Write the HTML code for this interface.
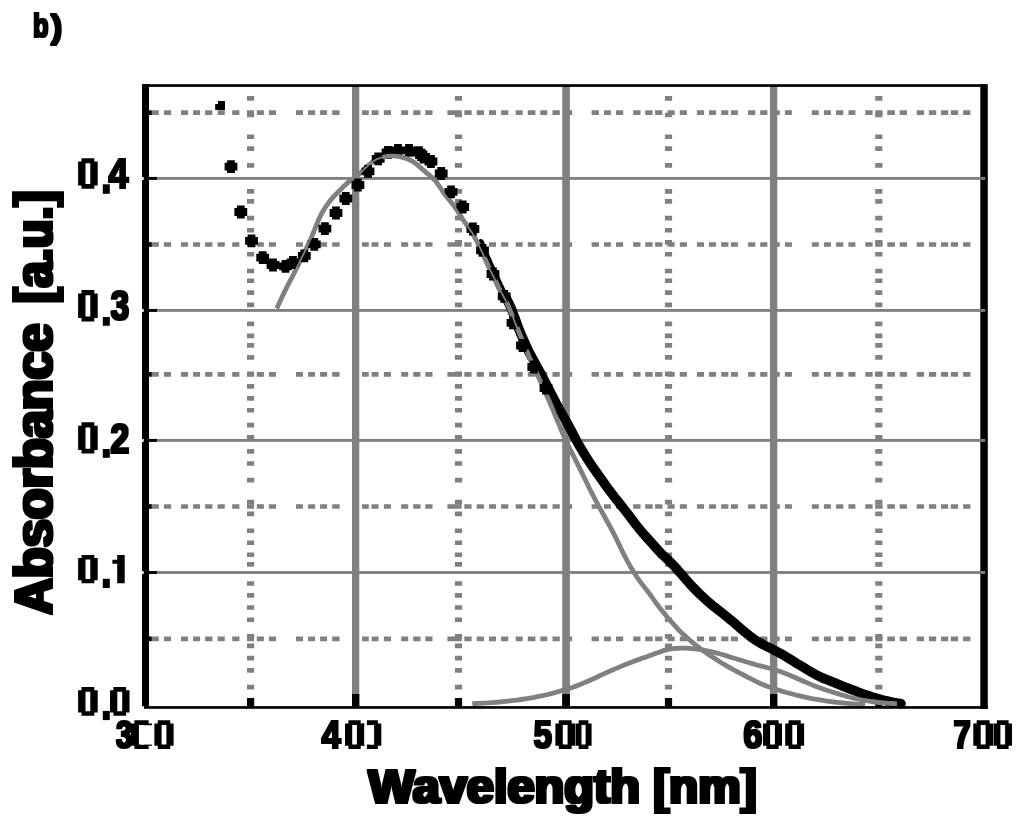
<!DOCTYPE html>
<html><head><meta charset="utf-8"><style>
html,body{margin:0;padding:0;background:#fff;width:1024px;height:821px;overflow:hidden;font-family:"Liberation Sans",sans-serif;}
svg{display:block}
</style></head><body>
<svg width="1024" height="821" viewBox="0 0 1024 821"><rect x="352.0" y="86" width="7.3" height="620" fill="#808080"/>
<rect x="562.2" y="86" width="7.7" height="620" fill="#808080"/>
<rect x="770.0" y="86" width="7.3" height="620" fill="#808080"/>
<rect x="149" y="176.95" width="832" height="2.9" fill="#808080"/>
<rect x="149" y="308.95" width="832" height="2.9" fill="#808080"/>
<rect x="149" y="438.95" width="832" height="2.9" fill="#808080"/>
<rect x="149" y="571.05" width="832" height="2.9" fill="#808080"/>
<path transform="translate(0,110.35)" d="M151.8,0H158.8V4.7H151.8ZM163.9,0H171.1V4.7H163.9ZM181.0,0H188.1V4.7H181.0ZM193.1,0H200.1V4.7H193.1ZM205.1,0H212.4V4.7H205.1ZM217.6,0H224.8V4.7H217.6ZM232.2,0H239.4V4.7H232.2ZM247.0,0H254.0V4.7H247.0ZM256.8,0H263.9V4.7H256.8ZM268.9,0H276.0V4.7H268.9ZM296.0,0H303.0V4.7H296.0ZM308.1,0H315.1V4.7H308.1ZM320.1,0H327.1V4.7H320.1ZM332.2,0H339.6V4.7H332.2ZM362.0,0H368.8V4.7H362.0ZM371.6,0H378.5V4.7H371.6ZM383.9,0H391.0V4.7H383.9ZM401.2,0H408.2V4.7H401.2ZM413.2,0H420.5V4.7H413.2ZM425.3,0H432.5V4.7H425.3ZM447.4,0H454.6V4.7H447.4ZM454.6,0H461.7V4.7H454.6ZM464.3,0H471.6V4.7H464.3ZM476.7,0H483.9V4.7H476.7ZM489.0,0H496.0V4.7H489.0ZM501.1,0H508.3V4.7H501.1ZM515.7,0H522.7V4.7H515.7ZM527.8,0H535.4V4.7H527.8ZM540.3,0H547.3V4.7H540.3ZM552.5,0H559.8V4.7H552.5ZM565.0,0H572.2V4.7H565.0ZM591.6,0H598.9V4.7H591.6ZM604.0,0H610.9V4.7H604.0ZM616.0,0H623.2V4.7H616.0ZM633.2,0H640.5V4.7H633.2ZM645.2,0H652.6V4.7H645.2ZM655.1,0H662.4V4.7H655.1ZM667.5,0H674.7V4.7H667.5ZM679.8,0H686.9V4.7H679.8ZM696.9,0H704.0V4.7H696.9ZM709.0,0H716.1V4.7H709.0ZM721.2,0H728.4V4.7H721.2ZM730.9,0H737.9V4.7H730.9ZM748.1,0H755.3V4.7H748.1ZM760.2,0H767.4V4.7H760.2ZM772.5,0H779.8V4.7H772.5ZM784.9,0H791.9V4.7H784.9ZM811.8,0H818.8V4.7H811.8ZM823.9,0H830.9V4.7H823.9ZM836.1,0H843.3V4.7H836.1ZM848.4,0H855.4V4.7H848.4ZM865.3,0H872.6V4.7H865.3ZM875.2,0H882.6V4.7H875.2ZM887.3,0H894.9V4.7H887.3ZM899.7,0H907.0V4.7H899.7ZM916.7,0H924.1V4.7H916.7ZM928.9,0H936.2V4.7H928.9ZM941.0,0H948.2V4.7H941.0ZM950.8,0H958.1V4.7H950.8ZM963.1,0H970.4V4.7H963.1Z" fill="#808080"/>
<path transform="translate(0,242.15)" d="M151.8,0H158.8V4.7H151.8ZM163.9,0H171.1V4.7H163.9ZM181.0,0H188.1V4.7H181.0ZM193.1,0H200.1V4.7H193.1ZM205.1,0H212.4V4.7H205.1ZM217.6,0H224.8V4.7H217.6ZM232.2,0H239.4V4.7H232.2ZM247.0,0H254.0V4.7H247.0ZM256.8,0H263.9V4.7H256.8ZM268.9,0H276.0V4.7H268.9ZM296.0,0H303.0V4.7H296.0ZM308.1,0H315.1V4.7H308.1ZM320.1,0H327.1V4.7H320.1ZM332.2,0H339.6V4.7H332.2ZM362.0,0H368.8V4.7H362.0ZM371.6,0H378.5V4.7H371.6ZM383.9,0H391.0V4.7H383.9ZM401.2,0H408.2V4.7H401.2ZM413.2,0H420.5V4.7H413.2ZM425.3,0H432.5V4.7H425.3ZM447.4,0H454.6V4.7H447.4ZM454.6,0H461.7V4.7H454.6ZM464.3,0H471.6V4.7H464.3ZM476.7,0H483.9V4.7H476.7ZM489.0,0H496.0V4.7H489.0ZM501.1,0H508.3V4.7H501.1ZM515.7,0H522.7V4.7H515.7ZM527.8,0H535.4V4.7H527.8ZM540.3,0H547.3V4.7H540.3ZM552.5,0H559.8V4.7H552.5ZM565.0,0H572.2V4.7H565.0ZM591.6,0H598.9V4.7H591.6ZM604.0,0H610.9V4.7H604.0ZM616.0,0H623.2V4.7H616.0ZM633.2,0H640.5V4.7H633.2ZM645.2,0H652.6V4.7H645.2ZM655.1,0H662.4V4.7H655.1ZM667.5,0H674.7V4.7H667.5ZM679.8,0H686.9V4.7H679.8ZM696.9,0H704.0V4.7H696.9ZM709.0,0H716.1V4.7H709.0ZM721.2,0H728.4V4.7H721.2ZM730.9,0H737.9V4.7H730.9ZM748.1,0H755.3V4.7H748.1ZM760.2,0H767.4V4.7H760.2ZM772.5,0H779.8V4.7H772.5ZM784.9,0H791.9V4.7H784.9ZM811.8,0H818.8V4.7H811.8ZM823.9,0H830.9V4.7H823.9ZM836.1,0H843.3V4.7H836.1ZM848.4,0H855.4V4.7H848.4ZM865.3,0H872.6V4.7H865.3ZM875.2,0H882.6V4.7H875.2ZM887.3,0H894.9V4.7H887.3ZM899.7,0H907.0V4.7H899.7ZM916.7,0H924.1V4.7H916.7ZM928.9,0H936.2V4.7H928.9ZM941.0,0H948.2V4.7H941.0ZM950.8,0H958.1V4.7H950.8ZM963.1,0H970.4V4.7H963.1Z" fill="#808080"/>
<path transform="translate(0,372.05)" d="M151.8,0H158.8V4.7H151.8ZM163.9,0H171.1V4.7H163.9ZM181.0,0H188.1V4.7H181.0ZM193.1,0H200.1V4.7H193.1ZM205.1,0H212.4V4.7H205.1ZM217.6,0H224.8V4.7H217.6ZM232.2,0H239.4V4.7H232.2ZM247.0,0H254.0V4.7H247.0ZM256.8,0H263.9V4.7H256.8ZM268.9,0H276.0V4.7H268.9ZM296.0,0H303.0V4.7H296.0ZM308.1,0H315.1V4.7H308.1ZM320.1,0H327.1V4.7H320.1ZM332.2,0H339.6V4.7H332.2ZM362.0,0H368.8V4.7H362.0ZM371.6,0H378.5V4.7H371.6ZM383.9,0H391.0V4.7H383.9ZM401.2,0H408.2V4.7H401.2ZM413.2,0H420.5V4.7H413.2ZM425.3,0H432.5V4.7H425.3ZM447.4,0H454.6V4.7H447.4ZM454.6,0H461.7V4.7H454.6ZM464.3,0H471.6V4.7H464.3ZM476.7,0H483.9V4.7H476.7ZM489.0,0H496.0V4.7H489.0ZM501.1,0H508.3V4.7H501.1ZM515.7,0H522.7V4.7H515.7ZM527.8,0H535.4V4.7H527.8ZM540.3,0H547.3V4.7H540.3ZM552.5,0H559.8V4.7H552.5ZM565.0,0H572.2V4.7H565.0ZM591.6,0H598.9V4.7H591.6ZM604.0,0H610.9V4.7H604.0ZM616.0,0H623.2V4.7H616.0ZM633.2,0H640.5V4.7H633.2ZM645.2,0H652.6V4.7H645.2ZM655.1,0H662.4V4.7H655.1ZM667.5,0H674.7V4.7H667.5ZM679.8,0H686.9V4.7H679.8ZM696.9,0H704.0V4.7H696.9ZM709.0,0H716.1V4.7H709.0ZM721.2,0H728.4V4.7H721.2ZM730.9,0H737.9V4.7H730.9ZM748.1,0H755.3V4.7H748.1ZM760.2,0H767.4V4.7H760.2ZM772.5,0H779.8V4.7H772.5ZM784.9,0H791.9V4.7H784.9ZM811.8,0H818.8V4.7H811.8ZM823.9,0H830.9V4.7H823.9ZM836.1,0H843.3V4.7H836.1ZM848.4,0H855.4V4.7H848.4ZM865.3,0H872.6V4.7H865.3ZM875.2,0H882.6V4.7H875.2ZM887.3,0H894.9V4.7H887.3ZM899.7,0H907.0V4.7H899.7ZM916.7,0H924.1V4.7H916.7ZM928.9,0H936.2V4.7H928.9ZM941.0,0H948.2V4.7H941.0ZM950.8,0H958.1V4.7H950.8ZM963.1,0H970.4V4.7H963.1Z" fill="#808080"/>
<path transform="translate(0,504.15)" d="M151.8,0H158.8V4.7H151.8ZM163.9,0H171.1V4.7H163.9ZM181.0,0H188.1V4.7H181.0ZM193.1,0H200.1V4.7H193.1ZM205.1,0H212.4V4.7H205.1ZM217.6,0H224.8V4.7H217.6ZM232.2,0H239.4V4.7H232.2ZM247.0,0H254.0V4.7H247.0ZM256.8,0H263.9V4.7H256.8ZM268.9,0H276.0V4.7H268.9ZM296.0,0H303.0V4.7H296.0ZM308.1,0H315.1V4.7H308.1ZM320.1,0H327.1V4.7H320.1ZM332.2,0H339.6V4.7H332.2ZM362.0,0H368.8V4.7H362.0ZM371.6,0H378.5V4.7H371.6ZM383.9,0H391.0V4.7H383.9ZM401.2,0H408.2V4.7H401.2ZM413.2,0H420.5V4.7H413.2ZM425.3,0H432.5V4.7H425.3ZM447.4,0H454.6V4.7H447.4ZM454.6,0H461.7V4.7H454.6ZM464.3,0H471.6V4.7H464.3ZM476.7,0H483.9V4.7H476.7ZM489.0,0H496.0V4.7H489.0ZM501.1,0H508.3V4.7H501.1ZM515.7,0H522.7V4.7H515.7ZM527.8,0H535.4V4.7H527.8ZM540.3,0H547.3V4.7H540.3ZM552.5,0H559.8V4.7H552.5ZM565.0,0H572.2V4.7H565.0ZM591.6,0H598.9V4.7H591.6ZM604.0,0H610.9V4.7H604.0ZM616.0,0H623.2V4.7H616.0ZM633.2,0H640.5V4.7H633.2ZM645.2,0H652.6V4.7H645.2ZM655.1,0H662.4V4.7H655.1ZM667.5,0H674.7V4.7H667.5ZM679.8,0H686.9V4.7H679.8ZM696.9,0H704.0V4.7H696.9ZM709.0,0H716.1V4.7H709.0ZM721.2,0H728.4V4.7H721.2ZM730.9,0H737.9V4.7H730.9ZM748.1,0H755.3V4.7H748.1ZM760.2,0H767.4V4.7H760.2ZM772.5,0H779.8V4.7H772.5ZM784.9,0H791.9V4.7H784.9ZM811.8,0H818.8V4.7H811.8ZM823.9,0H830.9V4.7H823.9ZM836.1,0H843.3V4.7H836.1ZM848.4,0H855.4V4.7H848.4ZM865.3,0H872.6V4.7H865.3ZM875.2,0H882.6V4.7H875.2ZM887.3,0H894.9V4.7H887.3ZM899.7,0H907.0V4.7H899.7ZM916.7,0H924.1V4.7H916.7ZM928.9,0H936.2V4.7H928.9ZM941.0,0H948.2V4.7H941.0ZM950.8,0H958.1V4.7H950.8ZM963.1,0H970.4V4.7H963.1Z" fill="#808080"/>
<path transform="translate(0,636.45)" d="M151.8,0H158.8V4.7H151.8ZM163.9,0H171.1V4.7H163.9ZM181.0,0H188.1V4.7H181.0ZM193.1,0H200.1V4.7H193.1ZM205.1,0H212.4V4.7H205.1ZM217.6,0H224.8V4.7H217.6ZM232.2,0H239.4V4.7H232.2ZM247.0,0H254.0V4.7H247.0ZM256.8,0H263.9V4.7H256.8ZM268.9,0H276.0V4.7H268.9ZM296.0,0H303.0V4.7H296.0ZM308.1,0H315.1V4.7H308.1ZM320.1,0H327.1V4.7H320.1ZM332.2,0H339.6V4.7H332.2ZM362.0,0H368.8V4.7H362.0ZM371.6,0H378.5V4.7H371.6ZM383.9,0H391.0V4.7H383.9ZM401.2,0H408.2V4.7H401.2ZM413.2,0H420.5V4.7H413.2ZM425.3,0H432.5V4.7H425.3ZM447.4,0H454.6V4.7H447.4ZM454.6,0H461.7V4.7H454.6ZM464.3,0H471.6V4.7H464.3ZM476.7,0H483.9V4.7H476.7ZM489.0,0H496.0V4.7H489.0ZM501.1,0H508.3V4.7H501.1ZM515.7,0H522.7V4.7H515.7ZM527.8,0H535.4V4.7H527.8ZM540.3,0H547.3V4.7H540.3ZM552.5,0H559.8V4.7H552.5ZM565.0,0H572.2V4.7H565.0ZM591.6,0H598.9V4.7H591.6ZM604.0,0H610.9V4.7H604.0ZM616.0,0H623.2V4.7H616.0ZM633.2,0H640.5V4.7H633.2ZM645.2,0H652.6V4.7H645.2ZM655.1,0H662.4V4.7H655.1ZM667.5,0H674.7V4.7H667.5ZM679.8,0H686.9V4.7H679.8ZM696.9,0H704.0V4.7H696.9ZM709.0,0H716.1V4.7H709.0ZM721.2,0H728.4V4.7H721.2ZM730.9,0H737.9V4.7H730.9ZM748.1,0H755.3V4.7H748.1ZM760.2,0H767.4V4.7H760.2ZM772.5,0H779.8V4.7H772.5ZM784.9,0H791.9V4.7H784.9ZM811.8,0H818.8V4.7H811.8ZM823.9,0H830.9V4.7H823.9ZM836.1,0H843.3V4.7H836.1ZM848.4,0H855.4V4.7H848.4ZM865.3,0H872.6V4.7H865.3ZM875.2,0H882.6V4.7H875.2ZM887.3,0H894.9V4.7H887.3ZM899.7,0H907.0V4.7H899.7ZM916.7,0H924.1V4.7H916.7ZM928.9,0H936.2V4.7H928.9ZM941.0,0H948.2V4.7H941.0ZM950.8,0H958.1V4.7H950.8ZM963.1,0H970.4V4.7H963.1Z" fill="#808080"/>
<path transform="translate(247.0,0)" d="M0,96.1H7.2V100.75H0ZM0,112.7H7.2V117.35H0ZM0,134.4H7.2V139.05H0ZM0,146.3H7.2V150.95H0ZM0,163.0H7.2V167.65H0ZM0,189.1H7.2V193.75H0ZM0,199.0H7.2V203.65H0ZM0,215.8H7.2V220.45H0ZM0,227.9H7.2V232.55H0ZM0,240.0H7.2V244.65H0ZM0,251.9H7.2V256.55H0ZM0,268.7H7.2V273.35H0ZM0,278.4H7.2V283.05H0ZM0,290.3H7.2V294.95H0ZM0,302.5H7.2V307.15H0ZM0,321.6H7.2V326.25H0ZM0,333.6H7.2V338.25H0ZM0,343.1H7.2V347.75H0ZM0,355.1H7.2V359.75H0ZM0,371.5H7.2V376.15H0ZM0,384.0H7.2V388.65H0ZM0,396.1H7.2V400.75H0ZM0,407.9H7.2V412.55H0ZM0,422.8H7.2V427.45H0ZM0,435.0H7.2V439.65H0ZM0,449.0H7.2V453.65H0ZM0,461.2H7.2V465.85H0ZM0,477.8H7.2V482.45H0ZM0,499.8H7.2V504.45H0ZM0,511.6H7.2V516.25H0ZM0,528.4H7.2V533.05H0ZM0,540.4H7.2V545.05H0ZM0,552.4H7.2V557.05H0ZM0,562.1H7.2V566.75H0ZM0,581.2H7.2V585.85H0ZM0,593.1H7.2V597.75H0ZM0,605.2H7.2V609.85H0ZM0,617.4H7.2V622.05H0ZM0,634.1H7.2V638.75H0ZM0,643.6H7.2V648.25H0ZM0,655.8H7.2V660.45H0ZM0,668.0H7.2V672.65H0ZM0,684.8H7.2V689.45H0Z" fill="#808080"/>
<path transform="translate(454.9,0)" d="M0,96.1H7.2V100.75H0ZM0,112.7H7.2V117.35H0ZM0,134.4H7.2V139.05H0ZM0,146.3H7.2V150.95H0ZM0,163.0H7.2V167.65H0ZM0,189.1H7.2V193.75H0ZM0,199.0H7.2V203.65H0ZM0,215.8H7.2V220.45H0ZM0,227.9H7.2V232.55H0ZM0,240.0H7.2V244.65H0ZM0,251.9H7.2V256.55H0ZM0,268.7H7.2V273.35H0ZM0,278.4H7.2V283.05H0ZM0,290.3H7.2V294.95H0ZM0,302.5H7.2V307.15H0ZM0,321.6H7.2V326.25H0ZM0,333.6H7.2V338.25H0ZM0,343.1H7.2V347.75H0ZM0,355.1H7.2V359.75H0ZM0,371.5H7.2V376.15H0ZM0,384.0H7.2V388.65H0ZM0,396.1H7.2V400.75H0ZM0,407.9H7.2V412.55H0ZM0,422.8H7.2V427.45H0ZM0,435.0H7.2V439.65H0ZM0,449.0H7.2V453.65H0ZM0,461.2H7.2V465.85H0ZM0,477.8H7.2V482.45H0ZM0,499.8H7.2V504.45H0ZM0,511.6H7.2V516.25H0ZM0,528.4H7.2V533.05H0ZM0,540.4H7.2V545.05H0ZM0,552.4H7.2V557.05H0ZM0,562.1H7.2V566.75H0ZM0,581.2H7.2V585.85H0ZM0,593.1H7.2V597.75H0ZM0,605.2H7.2V609.85H0ZM0,617.4H7.2V622.05H0ZM0,634.1H7.2V638.75H0ZM0,643.6H7.2V648.25H0ZM0,655.8H7.2V660.45H0ZM0,668.0H7.2V672.65H0ZM0,684.8H7.2V689.45H0Z" fill="#808080"/>
<path transform="translate(664.9,0)" d="M0,96.1H7.2V100.75H0ZM0,112.7H7.2V117.35H0ZM0,134.4H7.2V139.05H0ZM0,146.3H7.2V150.95H0ZM0,163.0H7.2V167.65H0ZM0,189.1H7.2V193.75H0ZM0,199.0H7.2V203.65H0ZM0,215.8H7.2V220.45H0ZM0,227.9H7.2V232.55H0ZM0,240.0H7.2V244.65H0ZM0,251.9H7.2V256.55H0ZM0,268.7H7.2V273.35H0ZM0,278.4H7.2V283.05H0ZM0,290.3H7.2V294.95H0ZM0,302.5H7.2V307.15H0ZM0,321.6H7.2V326.25H0ZM0,333.6H7.2V338.25H0ZM0,343.1H7.2V347.75H0ZM0,355.1H7.2V359.75H0ZM0,371.5H7.2V376.15H0ZM0,384.0H7.2V388.65H0ZM0,396.1H7.2V400.75H0ZM0,407.9H7.2V412.55H0ZM0,422.8H7.2V427.45H0ZM0,435.0H7.2V439.65H0ZM0,449.0H7.2V453.65H0ZM0,461.2H7.2V465.85H0ZM0,477.8H7.2V482.45H0ZM0,499.8H7.2V504.45H0ZM0,511.6H7.2V516.25H0ZM0,528.4H7.2V533.05H0ZM0,540.4H7.2V545.05H0ZM0,552.4H7.2V557.05H0ZM0,562.1H7.2V566.75H0ZM0,581.2H7.2V585.85H0ZM0,593.1H7.2V597.75H0ZM0,605.2H7.2V609.85H0ZM0,617.4H7.2V622.05H0ZM0,634.1H7.2V638.75H0ZM0,643.6H7.2V648.25H0ZM0,655.8H7.2V660.45H0ZM0,668.0H7.2V672.65H0ZM0,684.8H7.2V689.45H0Z" fill="#808080"/>
<path transform="translate(875.2,0)" d="M0,96.1H7.2V100.75H0ZM0,112.7H7.2V117.35H0ZM0,134.4H7.2V139.05H0ZM0,146.3H7.2V150.95H0ZM0,163.0H7.2V167.65H0ZM0,189.1H7.2V193.75H0ZM0,199.0H7.2V203.65H0ZM0,215.8H7.2V220.45H0ZM0,227.9H7.2V232.55H0ZM0,240.0H7.2V244.65H0ZM0,251.9H7.2V256.55H0ZM0,268.7H7.2V273.35H0ZM0,278.4H7.2V283.05H0ZM0,290.3H7.2V294.95H0ZM0,302.5H7.2V307.15H0ZM0,321.6H7.2V326.25H0ZM0,333.6H7.2V338.25H0ZM0,343.1H7.2V347.75H0ZM0,355.1H7.2V359.75H0ZM0,371.5H7.2V376.15H0ZM0,384.0H7.2V388.65H0ZM0,396.1H7.2V400.75H0ZM0,407.9H7.2V412.55H0ZM0,422.8H7.2V427.45H0ZM0,435.0H7.2V439.65H0ZM0,449.0H7.2V453.65H0ZM0,461.2H7.2V465.85H0ZM0,477.8H7.2V482.45H0ZM0,499.8H7.2V504.45H0ZM0,511.6H7.2V516.25H0ZM0,528.4H7.2V533.05H0ZM0,540.4H7.2V545.05H0ZM0,552.4H7.2V557.05H0ZM0,562.1H7.2V566.75H0ZM0,581.2H7.2V585.85H0ZM0,593.1H7.2V597.75H0ZM0,605.2H7.2V609.85H0ZM0,617.4H7.2V622.05H0ZM0,634.1H7.2V638.75H0ZM0,643.6H7.2V648.25H0ZM0,655.8H7.2V660.45H0ZM0,668.0H7.2V672.65H0ZM0,684.8H7.2V689.45H0Z" fill="#808080"/>
<rect x="352.0" y="694" width="7.3" height="12.5" fill="#000"/>
<rect x="562.2" y="694" width="7.7" height="12.5" fill="#000"/>
<rect x="770.0" y="694" width="7.3" height="12.5" fill="#000"/>
<rect x="247.0" y="698" width="7.2" height="8.5" fill="#000"/>
<rect x="454.9" y="698" width="7.2" height="8.5" fill="#000"/>
<rect x="664.9" y="698" width="7.2" height="8.5" fill="#000"/>
<rect x="875.2" y="698" width="7.2" height="8.5" fill="#000"/>
<rect x="148" y="176.95" width="9" height="2.9" fill="#000"/>
<rect x="148" y="308.95" width="9" height="2.9" fill="#000"/>
<rect x="148" y="438.95" width="9" height="2.9" fill="#000"/>
<rect x="148" y="571.05" width="9" height="2.9" fill="#000"/>
<rect x="148" y="110.35" width="3.8" height="4.7" fill="#000"/>
<rect x="148" y="242.15" width="3.8" height="4.7" fill="#000"/>
<rect x="148" y="372.05" width="3.8" height="4.7" fill="#000"/>
<rect x="148" y="504.15" width="3.8" height="4.7" fill="#000"/>
<rect x="148" y="636.45" width="3.8" height="4.7" fill="#000"/>
<path d="M215.2,104H218V101H225V110H215.2Z" fill="#000"/>
<polyline points="480.5,243.0 480.8,243.6 481.2,244.9 482.0,246.8 483.0,249.2 484.0,251.7 485.0,254.2 486.1,256.6 487.1,258.9 488.2,261.3 489.2,263.7 490.3,266.1 491.4,268.4 492.5,270.8 493.5,273.1 494.6,275.4 495.6,277.6 496.7,279.8 497.7,282.0 498.7,284.2 499.7,286.3 500.7,288.4 501.7,290.4 502.6,292.3 503.6,294.2 504.3,295.6 504.8,296.5 505.0,297.0" fill="none" stroke="#000" stroke-width="7.5" stroke-linejoin="round" stroke-linecap="round"/>
<polyline points="505.0,296.0 505.3,296.6 506.0,297.9 507.0,299.8 508.3,302.2 509.6,304.9 510.9,307.8 512.2,310.9 513.4,314.1 514.6,317.2 515.7,320.2 516.8,323.1 517.7,325.9 518.7,328.6 519.8,331.2 520.8,333.8 521.9,336.2 523.0,338.8 524.1,341.2 525.2,343.8 526.3,346.2 527.4,348.6 528.5,350.9 529.6,353.0 530.7,355.0 531.7,357.0 532.8,358.9 533.8,360.8 534.8,362.7 535.8,364.6 536.8,366.4 537.9,368.3 538.9,370.2 540.0,372.1 541.0,374.0 542.0,376.0 543.0,378.0 544.0,379.9 545.0,381.8 545.9,383.6 546.9,385.4 547.8,387.2 548.8,389.0 549.7,390.8 550.6,392.7 551.8,395.0 553.2,397.7 554.8,400.8 556.7,404.4 558.6,408.0 560.6,411.6 562.7,415.2 564.8,418.9 567.0,422.8 569.3,427.1 571.8,431.6 574.2,436.4 576.7,441.0 579.1,445.3 581.5,449.4 583.8,453.2 586.2,457.0 588.6,460.8 591.0,464.4 593.5,468.1 596.1,471.7 598.7,475.5 601.4,479.2 604.1,483.1 606.8,486.8 609.5,490.5 612.3,494.1 615.0,497.7 617.8,501.1 620.4,504.6 623.1,507.9 625.6,511.1 628.2,514.4 630.8,517.8 633.3,521.1 635.9,524.6 638.5,527.9 641.2,531.2 644.0,534.5 646.9,537.6 649.7,540.7 652.3,543.7 654.8,546.5 657.3,549.3 659.8,552.0 662.5,554.8 665.4,557.5 668.4,560.3 671.2,563.0 673.8,565.6 676.2,568.2 678.4,570.8 680.7,573.4 683.1,576.2 685.5,579.0 688.1,581.9 690.6,584.7 693.2,587.5 695.8,590.1 698.3,592.7 701.0,595.2 703.8,597.8 706.6,600.4 709.5,602.9 712.4,605.4 715.4,607.8 718.3,610.1 721.2,612.3 724.0,614.5 726.8,616.7 729.4,618.9 732.0,621.0 734.5,623.2 737.1,625.4 739.6,627.6 742.2,629.8 744.8,632.0 747.6,634.2 750.4,636.4 753.3,638.6 756.2,640.6 759.2,642.4 762.1,644.1 765.0,645.5 767.9,647.0 770.9,648.4 773.8,649.9 776.7,651.4 779.5,652.9 782.3,654.4 784.9,656.0 787.5,657.6 790.4,659.4 793.6,661.4 797.1,663.6 801.0,665.9 804.8,668.2 808.4,670.3 811.8,672.3 815.1,674.2 818.4,675.9 821.7,677.5 825.1,679.0 828.6,680.3 831.7,681.6 834.7,682.8 837.3,683.9 839.8,684.9 842.4,686.0 845.2,687.1 848.2,688.3 851.3,689.5 854.3,690.6 857.0,691.6 859.4,692.6 861.6,693.4 863.9,694.3 866.4,695.1 868.9,695.9 871.7,696.8 874.2,697.5 876.7,698.3 879.0,698.9 881.2,699.6 883.5,700.2 885.9,700.8 888.4,701.3 891.1,701.9 893.4,702.4 895.5,702.8 897.2,703.1 898.8,703.3 899.9,703.5 900.6,703.6 901.0,703.7" fill="none" stroke="#000" stroke-width="9.6" stroke-linejoin="round" stroke-linecap="round"/>
<polyline points="276.8,308.4 277.4,307.2 278.4,304.8 280.1,301.3 282.3,296.5 284.5,291.9 286.7,287.4 288.9,283.1 291.2,278.8 293.3,274.8 295.3,270.8 297.1,267.1 298.9,263.4 300.5,260.1 302.0,257.1 303.3,254.4 304.6,252.0 305.8,249.5 307.1,246.8 308.5,243.9 309.8,241.0 311.2,238.0 312.4,235.0 313.7,232.0 314.8,229.0 316.1,226.0 317.3,223.0 318.6,220.0 319.9,217.1 321.3,214.2 322.8,211.5 324.3,209.0 325.9,206.5 327.5,204.3 329.0,202.2 330.5,200.3 331.9,198.7 333.4,196.9 335.0,195.2 336.7,193.5 338.3,191.8 340.1,190.1 341.8,188.4 343.5,186.6 345.2,185.0 346.9,183.4 348.6,181.9 350.4,180.6 352.1,179.3 353.7,178.1 355.3,176.9 356.9,175.7 358.5,174.6 359.9,173.4 361.3,172.2 362.6,170.9 363.7,169.7 364.9,168.5 366.1,167.4 367.2,166.3 368.3,165.3 369.5,164.3 370.8,163.3 372.1,162.2 373.5,161.2 374.9,160.2 376.4,159.4 378.0,158.8 379.5,158.2 381.1,157.7 382.5,157.3 383.9,157.0 385.3,156.7 386.8,156.4 388.4,156.2 390.3,156.0 392.2,155.9 394.2,155.9 396.0,156.0 397.8,156.2 399.6,156.6 401.3,157.0 402.9,157.4 404.5,157.8 406.1,158.3 407.6,158.9 409.2,159.7 410.8,160.4 412.3,161.3 413.9,162.3 415.3,163.3 416.8,164.4 418.1,165.6 419.6,166.8 421.0,168.0 422.5,169.4 424.1,170.7 425.6,172.1 427.1,173.3 428.6,174.6 430.1,175.7 431.6,177.0 433.0,178.4 434.4,179.9 435.8,181.4 437.2,183.3 438.7,185.4 440.4,187.8 442.1,190.4 443.7,192.8 445.3,195.0 446.8,197.0 448.3,198.6 449.8,200.4 451.2,202.2 452.7,204.1 454.1,206.1 455.6,208.1 457.0,210.3 458.5,212.6 460.0,215.1 461.5,217.4 462.9,219.6 464.4,221.6 465.8,223.6 467.3,225.7 468.9,228.0 470.5,230.4 472.3,233.1 474.0,235.9 475.7,239.1 477.4,242.4 479.2,246.1 480.9,249.6 482.5,253.1 484.0,256.6 485.5,259.9 487.0,263.3 488.6,266.8 490.2,270.2 492.0,273.7 493.6,277.0 495.2,280.2 496.7,283.3 498.1,286.2 499.6,289.2 501.2,292.2 502.9,295.3 504.6,298.5 506.3,301.7 507.8,305.0 509.3,308.4 510.7,311.8 512.1,315.2 513.4,318.4 514.6,321.6 515.9,324.6 517.1,327.8 518.5,331.0 519.9,334.3 521.3,337.8 522.7,341.1 524.1,344.3 525.3,347.4 526.6,350.5 527.8,353.4 529.0,356.3 530.2,359.1 531.5,361.9 532.7,364.6 533.9,367.2 535.1,369.8 536.3,372.2 537.5,374.7 538.6,377.2 539.7,379.7 540.8,382.1 542.0,385.0 543.5,388.2 545.1,391.8 546.8,395.7 548.7,399.9 550.5,404.3 552.5,408.8 554.4,413.6 556.4,418.3 558.4,423.1 560.4,427.8 562.3,432.6 564.4,437.3 566.6,442.1 568.9,446.8 571.3,451.6 573.6,456.1 575.8,460.5 577.9,464.7 579.8,468.6 581.8,472.6 583.8,476.7 585.8,480.8 587.7,484.8 589.6,488.7 591.4,492.2 593.1,495.5 594.6,498.5 596.6,502.1 598.9,506.3 601.5,511.1 604.5,516.5 607.2,521.5 609.8,526.1 612.0,530.4 614.0,534.2 616.0,538.1 617.9,542.0 619.8,545.9 621.6,549.9 623.5,553.7 625.4,557.4 627.2,560.9 629.2,564.4 631.1,567.7 633.1,571.0 635.1,574.2 637.1,577.3 639.2,580.3 641.3,583.2 643.4,585.9 645.5,588.6 647.6,591.3 649.8,594.1 651.9,597.0 654.0,600.1 656.1,603.0 658.3,605.9 660.4,608.7 662.6,611.4 664.8,614.1 667.1,616.9 669.4,619.6 671.9,622.4 674.1,624.9 676.1,627.0 677.8,629.0 679.4,630.6 681.3,632.5 683.5,634.6 686.1,636.9 689.0,639.5 691.9,641.9 694.9,644.3 697.8,646.6 700.7,648.8 703.7,651.0 706.8,653.2 710.0,655.4 713.3,657.6 716.7,659.8 720.1,662.0 723.7,664.2 727.4,666.3 731.1,668.4 734.7,670.4 738.4,672.4 742.0,674.2 745.5,676.0 748.9,677.8 752.2,679.4 755.3,681.1 758.6,682.7 762.1,684.2 765.8,685.8 769.8,687.2 773.7,688.6 777.6,689.9 781.5,691.1 785.4,692.2 789.3,693.2 793.2,694.3 797.1,695.3 801.0,696.2 804.8,697.1 808.4,697.9 811.8,698.6 815.1,699.1 818.3,699.7 821.4,700.2 824.4,700.7 827.3,701.1 830.9,701.6 835.0,702.1 839.8,702.6 845.1,703.2 849.9,703.6 854.1,704.0 857.6,704.2 860.6,704.3 862.8,704.4 864.3,704.5 865.0,704.5" fill="none" stroke="#808080" stroke-width="4.8" stroke-linejoin="round"/>
<polyline points="472.3,703.7 473.4,703.6 475.6,703.5 478.9,703.4 483.4,703.1 487.6,702.9 491.7,702.6 495.6,702.3 499.4,702.0 503.4,701.6 507.6,701.1 512.1,700.6 516.9,700.1 521.2,699.5 525.1,698.9 528.5,698.4 531.5,697.8 534.4,697.3 537.3,696.7 540.1,696.1 542.9,695.6 545.5,695.0 548.0,694.4 550.4,693.8 552.6,693.2 554.8,692.6 556.9,692.0 559.0,691.4 561.0,690.7 563.0,690.1 565.1,689.5 567.2,688.9 569.3,688.4 571.3,687.8 573.1,687.2 574.7,686.6 576.2,686.1 578.0,685.3 580.1,684.5 582.6,683.4 585.3,682.3 589.0,680.7 593.4,678.7 598.7,676.3 604.8,673.4 610.7,670.8 616.3,668.4 621.7,666.1 626.9,664.1 632.0,662.1 637.2,660.1 642.3,658.2 647.4,656.4 652.0,654.7 656.1,653.2 659.7,652.0 662.7,650.9 666.0,649.9 669.4,649.2 673.0,648.7 676.9,648.3 680.8,648.1 684.8,648.1 688.8,648.3 693.0,648.7 697.0,649.1 700.9,649.7 704.7,650.3 708.4,651.0 712.1,651.8 715.7,652.7 719.4,653.8 723.0,654.8 726.7,655.9 730.3,657.1 734.0,658.2 737.6,659.2 741.3,660.3 744.9,661.5 748.6,662.5 752.2,663.6 755.9,664.7 759.5,665.7 763.2,666.6 766.8,667.5 770.5,668.5 774.1,669.6 777.8,670.8 781.5,672.1 785.5,673.6 789.8,675.3 794.5,677.3 799.4,679.5 804.1,681.5 808.6,683.4 812.7,685.1 816.7,686.7 820.6,688.1 824.4,689.5 828.3,690.8 832.3,692.0 836.2,693.2 840.1,694.4 844.0,695.5 847.9,696.7 851.8,697.7 855.7,698.7 859.6,699.5 863.5,700.3 867.5,700.9 871.3,701.5 875.2,702.0 879.2,702.5 882.8,702.8 886.3,703.1 889.5,703.4 892.5,703.5 894.8,703.7 896.2,703.8 897.0,703.8" fill="none" stroke="#808080" stroke-width="4.8" stroke-linejoin="round"/>
<path d="M227.1,160.2H234.9V162.7H237.4V170.5H234.9V173.0H227.1V170.5H224.6V162.7H227.1ZM236.9,205.6H244.7V208.1H247.2V215.9H244.7V218.4H236.9V215.9H234.4V208.1H236.9ZM247.6,234.5H255.4V237.0H257.9V244.8H255.4V247.3H247.6V244.8H245.1V237.0H247.6ZM258.8,251.3H266.6V253.8H269.1V261.6H266.6V264.1H258.8V261.6H256.3V253.8H258.8ZM269.1,258.6H276.9V261.1H279.4V268.9H276.9V271.4H269.1V268.9H266.6V261.1H269.1ZM281.6,259.9H289.4V262.4H291.9V270.2H289.4V272.7H281.6V270.2H279.1V262.4H281.6ZM289.1,256.1H296.9V258.6H299.4V266.4H296.9V268.9H289.1V266.4H286.6V258.6H289.1ZM300.4,249.4H308.2V251.9H310.7V259.7H308.2V262.2H300.4V259.7H297.9V251.9H300.4ZM310.4,238.0H318.2V240.5H320.7V248.3H318.2V250.8H310.4V248.3H307.9V240.5H310.4ZM321.0,222.3H328.8V224.8H331.3V232.6H328.8V235.1H321.0V232.6H318.5V224.8H321.0ZM332.1,206.6H339.9V209.1H342.4V216.9H339.9V219.4H332.1V216.9H329.6V209.1H332.1ZM341.9,192.1H349.7V194.6H352.2V202.4H349.7V204.9H341.9V202.4H339.4V194.6H341.9ZM354.0,178.6H361.8V181.1H364.3V188.9H361.8V191.4H354.0V188.9H351.5V181.1H354.0ZM364.1,164.9H371.9V167.4H374.4V175.2H371.9V177.7H364.1V175.2H361.6V167.4H364.1ZM374.3,152.4H382.1V154.9H384.6V162.7H382.1V165.2H374.3V162.7H371.8V154.9H374.3ZM384.1,146.0H391.9V148.5H394.4V156.3H391.9V158.8H384.1V156.3H381.6V148.5H384.1ZM394.1,143.9H401.9V146.4H404.4V154.2H401.9V156.7H394.1V154.2H391.6V146.4H394.1ZM405.1,143.9H412.9V146.4H415.4V154.2H412.9V156.7H405.1V154.2H402.6V146.4H405.1ZM415.1,146.2H422.9V148.7H425.4V156.5H422.9V159.0H415.1V156.5H412.6V148.7H415.1ZM419.6,150.6H427.4V153.1H429.9V160.9H427.4V163.4H419.6V160.9H417.1V153.1H419.6ZM427.1,155.1H434.9V157.6H437.4V165.4H434.9V167.9H427.1V165.4H424.6V157.6H427.1ZM437.3,167.1H445.1V169.6H447.6V177.4H445.1V179.9H437.3V177.4H434.8V169.6H437.3ZM447.1,185.4H454.9V187.9H457.4V195.7H454.9V198.2H447.1V195.7H444.6V187.9H447.1ZM458.8,200.6H466.6V203.1H469.1V210.9H466.6V213.4H458.8V210.9H456.3V203.1H458.8ZM469.0,222.6H476.8V225.1H479.3V232.9H476.8V235.4H469.0V232.9H466.5V225.1H469.0ZM478.6,243.9H486.4V246.4H488.9V254.2H486.4V256.7H478.6V254.2H476.1V246.4H478.6ZM489.1,267.6H496.9V270.1H499.4V277.9H496.9V280.4H489.1V277.9H486.6V270.1H489.1ZM500.3,290.0H508.1V292.5H510.6V300.3H508.1V302.8H500.3V300.3H497.8V292.5H500.3ZM509.1,316.4H516.9V318.9H519.4V326.7H516.9V329.2H509.1V326.7H506.6V318.9H509.1ZM518.6,339.1H526.4V341.6H528.9V349.4H526.4V351.9H518.6V349.4H516.1V341.6H518.6ZM529.9,360.6H537.7V363.1H540.2V370.9H537.7V373.4H529.9V370.9H527.4V363.1H529.9ZM542.1,381.6H549.9V384.1H552.4V391.9H549.9V394.4H542.1V391.9H539.6V384.1H542.1Z" fill="#000"/>
<polyline points="276.8,308.4 277.4,307.2 278.4,304.8 280.1,301.3 282.3,296.5 284.5,291.9 286.7,287.4 288.9,283.1 291.2,278.8 293.3,274.8 295.3,270.8 297.1,267.1 298.9,263.4 300.5,260.1 302.0,257.1 303.3,254.4 304.6,252.0 305.8,249.5 307.1,246.8 308.5,243.9 309.8,241.0 311.2,238.0 312.4,235.0 313.7,232.0 314.8,229.0 316.1,226.0 317.3,223.0 318.6,220.0 319.9,217.1 321.3,214.2 322.8,211.5 324.3,209.0 325.9,206.5 327.5,204.3 329.0,202.2 330.5,200.3 331.9,198.7 333.4,196.9 335.0,195.2 336.7,193.5 338.3,191.8 340.1,190.1 341.8,188.4 343.5,186.6 345.2,185.0 346.9,183.4 348.6,181.9 350.4,180.6 352.1,179.3 353.7,178.1 355.3,176.9 356.9,175.7 358.5,174.6 359.9,173.4 361.3,172.2 362.6,170.9 363.7,169.7 364.9,168.5 366.1,167.4 367.2,166.3 368.3,165.3 369.5,164.3 370.8,163.3 372.1,162.2 373.5,161.2 374.9,160.2 376.4,159.4 378.0,158.8 379.5,158.2 381.1,157.7 382.5,157.3 383.9,157.0 385.3,156.7 386.8,156.4 388.4,156.2 390.3,156.0 392.2,155.9 394.2,155.9 396.0,156.0 397.8,156.2 399.6,156.6 401.3,157.0 402.9,157.4 404.5,157.8 406.1,158.3 407.6,158.9 409.2,159.7 410.8,160.4 412.3,161.3 413.9,162.3 415.3,163.3 416.8,164.4 418.1,165.6 419.6,166.8 421.0,168.0 422.5,169.4 424.1,170.7 425.6,172.1 427.1,173.3 428.6,174.6 430.1,175.7 431.6,177.0 433.0,178.4 434.4,179.9 435.8,181.4 437.2,183.3 438.7,185.4 440.4,187.8 442.1,190.4 443.7,192.8 445.3,195.0 446.8,197.0 448.3,198.6 449.8,200.4 451.2,202.2 452.7,204.1 454.1,206.1 455.6,208.1 457.0,210.3 458.5,212.6 460.0,215.1 461.5,217.4 462.9,219.6 464.4,221.6 465.8,223.6 467.3,225.7 468.9,228.0 470.5,230.4 472.3,233.1 474.0,235.9 475.7,239.1 477.4,242.4 479.2,246.1 480.9,249.6 482.5,253.1 484.0,256.6 485.5,259.9 487.0,263.3 488.6,266.8 490.2,270.2 492.0,273.7 493.6,277.0 495.2,280.2 496.7,283.3 498.1,286.2 499.6,289.2 501.2,292.2 502.9,295.3 504.6,298.5 506.3,301.7 507.8,305.0 509.3,308.4 510.7,311.8 512.1,315.2 513.4,318.4 514.6,321.6 515.9,324.6 516.8,326.9 517.4,328.4 517.7,329.2" fill="none" stroke="#808080" stroke-width="1.8" stroke-linejoin="round"/>
<polyline points="382.5,157.3 383.9,157.0 385.3,156.7 386.8,156.4 388.4,156.2 390.3,156.0 392.2,155.9 394.2,155.9 396.0,156.0 397.8,156.2 399.6,156.6 401.3,157.0 402.9,157.4 404.5,157.8 406.1,158.3 407.6,158.9 409.2,159.7 410.8,160.4 412.3,161.3" fill="none" stroke="#808080" stroke-width="4.4" stroke-linejoin="round"/>
<rect x="142" y="84.2" width="843" height="2.7" fill="#000"/>
<rect x="142" y="84.2" width="7" height="622" fill="#000"/>
<rect x="980.3" y="84.2" width="7.5" height="624.6" fill="#000"/>
<rect x="144" y="706.1" width="843.8" height="2.7" fill="#000"/>
<rect x="980.3" y="176.95" width="4.9" height="2.9" fill="#808080"/>
<rect x="980.3" y="308.95" width="4.9" height="2.9" fill="#808080"/>
<rect x="980.3" y="438.95" width="4.9" height="2.9" fill="#808080"/>
<rect x="980.3" y="571.05" width="4.9" height="2.9" fill="#808080"/>
<rect x="141.8" y="177.00" width="1.9" height="3.0" fill="#fff"/>
<rect x="141.8" y="309.00" width="1.9" height="3.0" fill="#fff"/>
<rect x="141.8" y="439.00" width="1.9" height="3.0" fill="#fff"/>
<rect x="141.8" y="571.10" width="1.9" height="3.0" fill="#fff"/>
<filter id="m0" filterUnits="userSpaceOnUse" x="0" y="0" width="1024" height="821"><feMorphology operator="dilate" radius="0.7 0.5"/></filter>
<filter id="m1" filterUnits="userSpaceOnUse" x="0" y="0" width="1024" height="821"><feMorphology operator="dilate" radius="1.3 0.5"/></filter>
<filter id="m2" filterUnits="userSpaceOnUse" x="0" y="0" width="1024" height="821"><feMorphology operator="dilate" radius="1.6 1.2"/></filter>
<filter id="m3" filterUnits="userSpaceOnUse" x="0" y="0" width="1024" height="821"><feMorphology operator="dilate" radius="1.2 1.5"/></filter>
<g filter="url(#m0)"><text transform="translate(32.92,37.25) scale(0.7774,1)" font-family="Liberation Sans" font-weight="bold" font-size="32.67">b</text></g>
<g filter="url(#m0)"><text transform="translate(50.70,37.55) scale(1.0633,1)" font-family="Liberation Sans" font-weight="bold" font-size="33.09">)</text></g>
<path fill-rule="evenodd" d="M81.5,158.2H94.3V161.6H97.7V185.4H94.3V188.8H81.5V185.4H78.1V161.6H81.5ZM85.5,163.2H90.3V184.1H85.5Z" fill="#000"/>
<rect x="102.8" y="184.3" width="7.0" height="9.5" fill="#000"/>
<g filter="url(#m1)"><text transform="translate(108.48,187.88) scale(0.8599,1)" font-family="Liberation Sans" font-weight="bold" font-size="41.69">4</text></g>
<path fill-rule="evenodd" d="M81.5,290.1H94.3V293.5H97.7V318.0H94.3V321.4H81.5V318.0H78.1V293.5H81.5ZM85.5,295.3H90.3V316.5H85.5Z" fill="#000"/>
<rect x="102.8" y="317" width="7.0" height="8.8" fill="#000"/>
<g filter="url(#m1)"><text transform="translate(110.62,320.47) scale(0.7920,1)" font-family="Liberation Sans" font-weight="bold" font-size="42.68">3</text></g>
<path fill-rule="evenodd" d="M81.5,422.3H94.3V425.7H97.7V450.1H94.3V453.5H81.5V450.1H78.1V425.7H81.5ZM85.5,427.4H90.3V448.7H85.5Z" fill="#000"/>
<rect x="102.8" y="449" width="7.0" height="8.8" fill="#000"/>
<g filter="url(#m1)"><text transform="translate(110.27,452.57) scale(0.8109,1)" font-family="Liberation Sans" font-weight="bold" font-size="42.54">2</text></g>
<path fill-rule="evenodd" d="M81.5,554.9H94.3V558.0H97.7V580.2H94.3V583.3H81.5V580.2H78.1V558.0H81.5ZM85.5,559.6H90.3V578.9H85.5Z" fill="#000"/>
<rect x="102.8" y="578.8" width="7.0" height="9.2" fill="#000"/>
<path d="M117.2,554.9H124.7V583.3H117.2V563.8H112.4V559.7H117.2Z" fill="#000"/>
<path fill-rule="evenodd" d="M81.5,687.0H94.3V690.2H97.7V712.5H94.3V715.7H81.5V712.5H78.1V690.2H81.5ZM85.5,691.7H90.3V711.3H85.5Z" fill="#000"/>
<rect x="102.8" y="710.9" width="7.0" height="9.2" fill="#000"/>
<path fill-rule="evenodd" d="M113.4,687.0H126.1V690.2H129.5V712.5H126.1V715.7H113.4V712.5H110.0V690.2H113.4ZM117.3,691.7H122.2V711.3H117.3Z" fill="#000"/>
<g filter="url(#m1)"><text transform="translate(115.91,748.11) scale(0.7536,1)" font-family="Liberation Sans" font-weight="bold" font-size="39.01">3</text></g>
<path fill-rule="evenodd" d="M134.4,720.3H148.6V723.5H152.0V745.8H148.6V749.0H134.4V745.8H131.0V723.5H134.4ZM138.9,725.0H144.1V744.6H138.9Z" fill="#000"/>
<path fill-rule="evenodd" d="M157.8,720.3H170.2V723.5H173.6V745.8H170.2V749.0H157.8V745.8H154.4V723.5H157.8ZM161.6,725.0H166.4V744.6H161.6Z" fill="#000"/>
<g filter="url(#m1)"><text transform="translate(321.40,748.11) scale(0.8947,1)" font-family="Liberation Sans" font-weight="bold" font-size="39.01">4</text></g>
<path fill-rule="evenodd" d="M348.4,720.3H360.7V723.5H364.1V745.8H360.7V749.0H348.4V745.8H345.0V723.5H348.4ZM352.2,725.0H356.9V744.6H352.2Z" fill="#000"/>
<path fill-rule="evenodd" d="M365.5,720.3H377.9V723.5H381.3V745.8H377.9V749.0H365.5V745.8H362.1V723.5H365.5ZM369.3,725.0H374.1V744.6H369.3Z" fill="#000"/>
<g filter="url(#m1)"><text transform="translate(533.50,748.11) scale(0.8561,1)" font-family="Liberation Sans" font-weight="bold" font-size="39.01">5</text></g>
<path fill-rule="evenodd" d="M558.8,720.3H571.6V723.5H575.0V745.8H571.6V749.0H558.8V745.8H555.4V723.5H558.8ZM562.8,725.0H567.6V744.6H562.8Z" fill="#000"/>
<path fill-rule="evenodd" d="M578.7,720.3H588.4V723.5H591.6V745.8H588.4V749.0H578.7V745.8H575.5V723.5H578.7ZM581.5,725.0H585.6V744.6H581.5Z" fill="#000"/>
<g filter="url(#m1)"><text transform="translate(743.22,748.11) scale(0.8864,1)" font-family="Liberation Sans" font-weight="bold" font-size="39.01">6</text></g>
<path fill-rule="evenodd" d="M766.4,720.3H778.6V723.5H782.0V745.8H778.6V749.0H766.4V745.8H763.0V723.5H766.4ZM770.1,725.0H774.9V744.6H770.1Z" fill="#000"/>
<path fill-rule="evenodd" d="M788.6,720.3H800.7V723.5H804.1V745.8H800.7V749.0H788.6V745.8H785.2V723.5H788.6ZM792.3,725.0H797.0V744.6H792.3Z" fill="#000"/>
<g filter="url(#m1)"><text transform="translate(953.46,748.11) scale(0.7962,1)" font-family="Liberation Sans" font-weight="bold" font-size="39.01">7</text></g>
<path fill-rule="evenodd" d="M976.7,720.3H989.6V723.5H993.0V745.8H989.6V749.0H976.7V745.8H973.3V723.5H976.7ZM980.7,725.0H985.6V744.6H980.7Z" fill="#000"/>
<path fill-rule="evenodd" d="M996.9,720.3H1008.6V723.5H1012.0V745.8H1008.6V749.0H996.9V745.8H993.5V723.5H996.9ZM1000.4,725.0H1005.1V744.6H1000.4Z" fill="#000"/>
<g filter="url(#m2)"><text transform="translate(368.50,803.00) scale(1.0059,1)" font-family="Liberation Sans" font-weight="bold" font-size="48.41">Wavelength</text></g>
<g filter="url(#m2)"><text transform="translate(653.24,803.00) scale(0.9856,1)" font-family="Liberation Sans" font-weight="bold" font-size="48.41">[nm]</text></g>
<g filter="url(#m3)"><text transform="translate(52.40,614.51) rotate(-90) scale(0.9525,1)" font-family="Liberation Sans" font-weight="bold" font-size="52.90">Absorbance</text></g>
<g filter="url(#m3)"><text transform="translate(52.40,303.23) rotate(-90) scale(0.8911,1)" font-family="Liberation Sans" font-weight="bold" font-size="52.90">[a.u.]</text></g>
<rect x="140.8" y="725.2" width="11.8" height="19.4" fill="#fff"/>
<rect x="364.4" y="725.2" width="9.6" height="19.3" fill="#fff"/>
<rect x="364.4" y="719" width="2.5" height="31" fill="#fff"/></svg>
</body></html>
